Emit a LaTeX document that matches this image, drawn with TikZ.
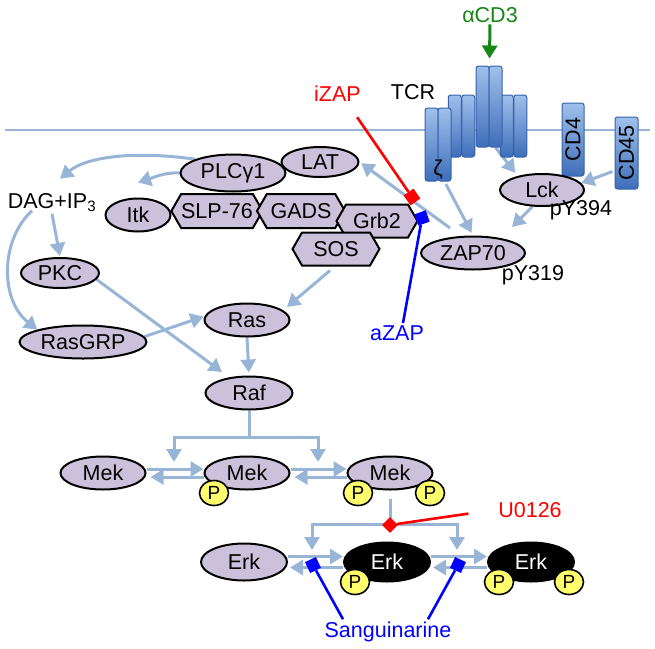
\documentclass[tikz,border=0pt]{standalone}
\usepackage{fontspec}
\setmainfont{Liberation Sans}
\usetikzlibrary{shapes.geometric,shapes.symbols,arrows.meta,backgrounds}
\definecolor{lav}{RGB}{204,193,218}
\definecolor{sig}{RGB}{152,181,216}
\definecolor{barlt}{RGB}{160,192,235}
\definecolor{bardk}{RGB}{62,110,186}
\definecolor{barln}{RGB}{55,98,168}
\definecolor{abgreen}{RGB}{20,135,20}
\definecolor{dotyel}{RGB}{255,255,110}
\begin{document}
\begin{tikzpicture}[x=1pt,y=-1pt,
font=\fontsize{21.5}{24}\selectfont,
prot/.style={ellipse,draw,line width=2pt,fill=lav,inner sep=0pt,minimum width=85pt,minimum height=33pt},
active/.style={prot,fill=black,text=white,minimum width=86pt,minimum height=39pt},
adapt/.style={signal,signal to=west and east,signal pointer angle=120,draw,line width=2pt,fill=lav,inner sep=0pt,minimum height=34pt},
phos/.style={ellipse,draw,line width=1.6pt,fill=dotyel,inner sep=0pt,minimum width=29pt,minimum height=25pt,font=\fontsize{19}{21}\selectfont},
bar/.style={rectangle,rounded corners=2.5pt,draw=barln,line width=1pt,top color=barlt,bottom color=bardk,minimum width=13pt,inner sep=0pt},
lbl/.style={anchor=base,inner sep=2pt},
link/.style={draw=sig,line width=3pt},
act/.style={link,-{Triangle[length=13pt,width=15pt]}},
fork/.style={link,{Triangle[length=13pt,width=15pt]}-{Triangle[length=13pt,width=15pt]}},
insq/.style={rectangle,draw=none,inner sep=0pt,minimum size=12pt},
inh/.style={line width=2.6pt}
]
\useasboundingbox (0,0) rectangle (655,648);

\node[lbl,text=abgreen] (acd3) at (490,22) {αCD3};
\node[lbl] (tcr) at (413,99) {TCR};
\node[bar,minimum height=62pt] (b1) at (454.75,126) {};
\node[bar,minimum height=62pt] (b2) at (468.25,126) {};
\node[bar,minimum height=62pt] (d1) at (506.75,126) {};
\node[bar,minimum height=62pt] (d2) at (520.25,126) {};
\node[bar,minimum height=73pt] (z1) at (431.5,144.5) {};
\node[bar,minimum height=73pt] (z2) at (444.5,144.5) {};
\node[bar,minimum height=81pt] (c1) at (482.5,106.5) {};
\node[bar,minimum height=81pt] (c2) at (495.5,106.5) {};
\node (zeta) at (438,170) {ζ};
\node[bar,minimum width=22pt,minimum height=73pt] (cd4) at (573,139.5) {};
\node[rotate=90] at (cd4) {CD4};
\node[bar,minimum width=23pt,minimum height=72pt] (cd45) at (626.5,153) {};
\node[rotate=90] at (cd45) {CD45};

\node[prot,minimum width=84pt,minimum height=32pt] (lck) at (542,190) {Lck};
\node[lbl] (py394) at (581,215) {pY394};
\node[prot,minimum width=104pt] (zap) at (473,253) {ZAP70};
\node[lbl] (py319) at (533,280) {pY319};

\node[prot,minimum width=105pt,minimum height=37pt] (plc) at (233,173) {PLCγ1};
\node[prot,minimum width=77pt,minimum height=30pt] (lat) at (320,162) {LAT};
\node[adapt,minimum width=91pt] (slp) at (217,211) {SLP-76};
\node[adapt,minimum width=88pt] (gads) at (301,211) {GADS};
\node[adapt,minimum width=81pt,minimum height=33pt] (grb) at (377,221) {Grb2};
\node[adapt,minimum width=87pt,minimum height=33pt] (sos) at (336,249) {SOS};
\node[prot,minimum width=65pt] (itk) at (138,215) {Itk};

\node[lbl] (dag) at (52,208) {DAG+IP\textsubscript{3}};
\node[prot,minimum width=78pt,minimum height=30pt] (pkc) at (60,273) {PKC};
\node[prot] (ras) at (247,320) {Ras};
\node[prot,minimum width=127pt] (rasgrp) at (83,342) {RasGRP};
\node[prot,minimum width=87pt] (raf) at (249,393) {Raf};

\node[prot] (mek1) at (103,473) {Mek};
\node[prot] (mek2) at (247,473) {Mek};
\node[prot] (mek3) at (390,473) {Mek};
\node[phos] (mek2p) at (214,493) {P};
\node[phos] (mek3pa) at (358,493) {P};
\node[phos] (mek3pb) at (430,493) {P};

\node[prot,minimum width=86pt,minimum height=37pt] (erk1) at (244,562) {Erk};
\node[active] (erk2) at (387,562) {Erk};
\node[active] (erk3) at (531,562) {Erk};
\node[phos] (erk2p) at (355,582) {P};
\node[phos] (erk3pa) at (499,582) {P};
\node[phos] (erk3pb) at (569,582) {P};

\coordinate (m12) at (174,462);
\coordinate (m23) at (318,462);
\coordinate (e12) at (312,550);
\coordinate (e23) at (457,550);

\begin{scope}[on background layer]
\draw[link,line width=2pt] (5,130) -- (650,130);
\draw[act,draw=abgreen,shorten >=7pt] (acd3) -- (c1.north east);
\draw[act,shorten >=4pt] (c2.south) -- (lck.150);
\draw[act] ([shift={(-2,-18)}]cd45.south west) -- (lck.10);
\draw[act,shorten <=3pt,shorten >=3pt] (z2.south) -- (zap.north);
\draw[act] (lck.240) -- ([shift={(39,-26)}]zap.center);
\draw[act,shorten >=2pt] ([shift={(-23,-25)}]zap.center) -- (lat.east);
\draw[act] (plc.160) .. controls (130,150) and (85,158) .. ([shift={(8,-12)}]dag.north);
\draw[act] (plc.west) .. controls (165,172) and (152,178) .. ([shift={(0,-15)}]itk.north);
\draw[act,shorten >=1pt] (dag.south) -- (pkc.north);
\draw[act] ([shift={(-20,-3)}]dag.south) .. controls (0,240) and (0,300) .. (rasgrp.north west);
\draw[act] (pkc.-10) -- ([shift={(-27,-21)}]raf.center);
\draw[act,shorten >=1pt] (rasgrp.5) -- (ras.175);
\draw[act] ([shift={(-6,4)}]sos.south) -- ([shift={(40,-13)}]ras.center);
\draw[act,shorten >=3pt] (ras.south) -- (raf.north);
\draw[link] (raf.south) -- ++(0,27);
\draw[fork] (m12) -- ++(0,-25) -| (m23);
\draw[act] ([shift={(0,-4)}]mek1.east) -- ([shift={(0,-4)}]mek2.west);
\draw[act,shorten >=4pt] ([shift={(0,4)}]mek2.west) -- ([shift={(0,4)}]mek1.east);
\draw[act] ([shift={(0,-4)}]mek2.east) -- ([shift={(0,-4)}]mek3.west);
\draw[act,shorten >=4pt] ([shift={(0,4)}]mek3.west) -- ([shift={(0,4)}]mek2.east);
\draw[link,shorten <=8pt] (mek3.south) -- ++(0,34);
\draw[fork] (e12) -- ++(0,-26) -| (e23);
\draw[act] ([shift={(0,-5.5)}]erk1.east) -- ([shift={(0,-5.5)}]erk2.west);
\draw[act,shorten >=2pt] ([shift={(0,5.5)}]erk2.west) -- ([shift={(0,5.5)}]erk1.east);
\draw[act] ([shift={(0,-5.5)}]erk2.east) -- ([shift={(0,-5.5)}]erk3.west);
\draw[act,shorten >=2pt] ([shift={(0,5.5)}]erk3.west) -- ([shift={(0,5.5)}]erk2.east);
\end{scope}

\node[lbl,text=red] (izap) at (337.5,101) {iZAP};
\node[insq,fill=red,rotate=35] (izapsq) at (412,197) {};
\draw[inh,red,shorten <=17pt] ([shift={(10,0)}]izap.south) -- (izapsq);
\node[lbl,text=blue] (azap) at (397,340) {aZAP};
\node[insq,fill=blue,rotate=20] (azapsq) at (422,218) {};
\draw[inh,blue] ([shift={(6,0)}]azap.north) -- (azapsq);
\node[lbl,text=red] (u0126) at (530,517) {U0126};
\node[insq,fill=red,minimum size=11pt,rotate=45] (usq) at (390,525) {};
\draw[inh,red,shorten <=28pt] (u0126.west) -- (usq);
\node[lbl,text=blue] (sang) at (388,637) {Sanguinarine};
\node[insq,fill=blue,rotate=25] (ssq1) at (313,565) {};
\node[insq,fill=blue,rotate=-25] (ssq2) at (458,565) {};
\draw[inh,blue] ([shift={(-45,0)}]sang.north) -- (ssq1);
\draw[inh,blue] ([shift={(40,0)}]sang.north) -- (ssq2);
\end{tikzpicture}
\end{document}
